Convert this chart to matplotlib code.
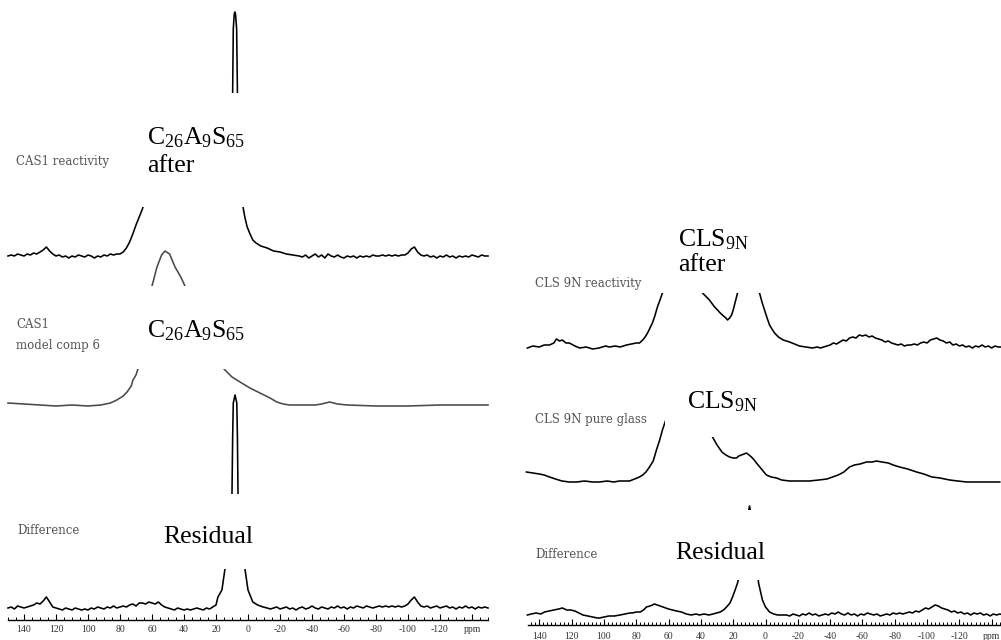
import matplotlib
matplotlib.use('Agg')
import matplotlib.pyplot as plt
from matplotlib.patches import Rectangle
from matplotlib.ticker import FixedLocator, MultipleLocator

W, H, DPI = 1001, 640, 100

plt.rcParams['mathtext.fontset'] = 'custom'
plt.rcParams['mathtext.rm'] = 'Liberation Serif'
plt.rcParams['mathtext.it'] = 'Liberation Serif:italic'

# ---- data: (ppm, intensity), intensity in px above each baseline
CAS1_REACT = [
    (150, 1), (148, 2), (146, 1), (144, 3), (142, 2), (140, 1), (138, 3), (136, 2), (134, 4), (132, 3),
    (130, 5), (128, 7), (126, 10), (124, 6), (122, 3), (120, 1), (118, 2), (116, 0), (114, 1), (112, -1),
    (110, 1), (108, 0), (106, 2), (104, 1), (102, 0), (100, 2), (98, 1), (96, -1), (94, 1), (92, 0),
    (90, 2), (88, 1), (86, 3), (84, 2), (82, 3), (80, 3), (78, 5), (76, 9), (74, 15), (72, 23),
    (70, 32), (68, 40), (66, 48), (64, 58), (60, 85), (55, 105), (50, 115), (45, 118), (40, 120), (35, 124),
    (30, 130), (25, 136), (20, 140), (15, 148), (12, 155), (10, 160), (9.6, 164), (9.4, 200), (9.2, 228), (8.6, 243),
    (8.2, 245), (7.8, 243), (7.1, 228), (6.9, 200), (6.6, 164), (6.2, 140), (5.5, 110), (4.5, 80), (3.6, 60), (3.1, 50),
    (2, 40), (0.5, 30), (-1, 24), (-3, 17), (-5, 14), (-8, 11), (-12, 9), (-16, 6), (-20, 5), (-24, 3),
    (-28, 2), (-32, 1), (-34, 0), (-36, 2), (-38, -1), (-40, 1), (-42, 3), (-44, 0), (-46, 2), (-48, -1),
    (-50, 3), (-52, 1), (-54, 0), (-56, 2), (-58, 0), (-60, -1), (-62, 1), (-64, 0), (-66, 1), (-68, -1),
    (-70, 1), (-72, 0), (-74, 1), (-76, 0), (-78, 2), (-80, 1), (-82, 1), (-84, 2), (-86, 1), (-88, 2),
    (-90, 1), (-92, 2), (-94, 1), (-96, 2), (-98, 2), (-100, 4), (-102, 8), (-104, 10), (-106, 5), (-108, 2),
    (-110, 1), (-112, 2), (-114, 0), (-116, 1), (-118, -1), (-120, 1), (-122, 0), (-124, 2), (-126, 0), (-128, 1),
    (-130, -1), (-132, 1), (-134, 0), (-136, 1), (-138, 0), (-140, 2), (-142, 1), (-144, 0), (-146, 2), (-148, 1),
    (-150, 1),
]

CAS1_MODEL = [
    (150, 2), (140, 1), (130, 0), (120, -1), (110, 0), (100, -1), (92, 0), (86, 2), (82, 5), (78, 9),
    (75.6, 13), (73, 19), (71.9, 25), (70, 30), (68.8, 36), (66, 60), (63, 90), (60, 119), (56.9, 138), (54, 150),
    (51.9, 154), (49, 151), (45.6, 138), (42, 128), (39.4, 119), (33, 95), (27, 72), (20.6, 50), (15, 36), (10, 28),
    (5, 23), (-1.2, 17), (-7.5, 12), (-13.8, 7), (-18, 3), (-22, 1), (-26, 0), (-34, 0), (-42, 0), (-46, 1),
    (-51, 3), (-56, 1), (-62, 0), (-80, -1), (-100, -1), (-120, 0), (-150, 0),
]

CAS1_DIFF = [
    (150, 0), (148, 1), (146, -1), (144, 2), (142, 1), (140, 0), (138, 1), (136, 2), (134, 3), (132, 5),
    (130, 4), (128, 7), (126, 11), (124, 6), (122, 1), (120, 0), (118, -1), (116, -2), (114, 0), (112, -1),
    (110, -2), (108, 0), (106, -1), (104, -2), (102, -1), (100, -2), (98, 0), (96, -1), (94, 1), (92, 0),
    (90, -1), (88, 1), (86, 0), (84, 2), (82, 0), (80, 1), (78, 2), (76, 1), (74, 3), (72, 4),
    (70, 2), (68, 5), (66, 5), (64, 4), (62, 6), (60, 5), (58, 4), (56, 6), (54, 3), (52, 1),
    (50, 0), (48, -1), (46, -2), (44, 0), (42, -1), (40, -2), (38, -1), (36, -2), (34, -1), (32, 0),
    (30, -1), (28, -2), (26, 0), (24, -1), (22, 1), (20, 3), (18.8, 11), (16.3, 18), (14.4, 39), (12, 70),
    (10, 115), (9.6, 170), (9.2, 205), (8.1, 213), (7.0, 205), (6.6, 170), (6.25, 115), (4, 70), (1.9, 39), (0, 18),
    (-3, 6), (-6, 3), (-9.4, 1), (-12, 0), (-14, -1), (-16, 0), (-18, 1), (-20, -1), (-22, 0), (-24, 1),
    (-26, -1), (-28, 0), (-30, -2), (-32, 0), (-34, 1), (-36, -1), (-38, 0), (-40, 2), (-42, 0), (-44, -1),
    (-46, 1), (-48, 0), (-50, -1), (-52, 1), (-54, 0), (-56, 2), (-58, 0), (-60, 1), (-62, -1), (-64, 1),
    (-66, 0), (-68, 2), (-70, 1), (-72, 0), (-74, 2), (-76, 1), (-78, 0), (-80, 1), (-82, 2), (-84, 1),
    (-86, 2), (-88, 1), (-90, 2), (-92, 1), (-94, 2), (-96, 1), (-98, 2), (-100, 4), (-102, 8), (-104, 11),
    (-106, 6), (-108, 2), (-110, 1), (-112, 2), (-114, 0), (-116, 1), (-118, 2), (-120, 0), (-122, 1), (-124, 2),
    (-126, 0), (-128, 1), (-130, -1), (-132, 1), (-134, 0), (-136, 2), (-138, 0), (-140, 1), (-142, -1), (-144, 1),
    (-146, 0), (-148, 1), (-150, 0),
]

CLS_REACT = [
    (147.4, 0), (144, 2), (140, 1), (137, 3), (133.7, 3), (131, 5), (129.4, 9), (127.5, 7), (125.7, 8), (123.5, 5),
    (121.4, 5), (118, 2), (115, 0), (111, 1), (107, -1), (103, 0), (99, 2), (96.6, 1), (93, 2), (90, 1),
    (86, 3), (83, 4), (80, 5), (78, 5), (76, 8), (74.5, 11), (73, 15), (71.5, 20), (70, 25), (68.5, 32),
    (66.9, 41), (65.3, 48), (63.8, 55), (60, 90), (55, 120), (50, 130), (45, 100), (39, 55), (36.5, 51), (34.7, 48),
    (32, 42), (29.7, 38), (28, 35), (26, 32), (24.5, 30), (23.5, 28), (22.2, 30), (21, 33), (20, 38), (19.2, 43),
    (18.2, 49), (17.3, 55), (15, 80), (12, 130), (10, 150), (8, 140), (6, 100), (4.5, 70), (3.7, 55), (2, 45),
    (0.6, 38), (-1, 30), (-2.5, 23), (-4, 19), (-5.6, 15), (-8, 11), (-11, 8), (-14.9, 6), (-18, 4), (-21, 2),
    (-25, 1), (-29, 0), (-32, 1), (-34, 0), (-36, 1), (-38, 2), (-40, 3), (-42, 5), (-44, 4), (-46, 6),
    (-48, 8), (-50, 7), (-52, 10), (-54, 11), (-56, 10), (-58, 13), (-60, 12), (-62, 13), (-64, 11), (-66, 12),
    (-68, 10), (-70, 9), (-72, 8), (-74, 6), (-76, 7), (-78, 5), (-80, 4), (-82, 3), (-84, 4), (-86, 2),
    (-88, 3), (-90, 3), (-92, 4), (-94, 3), (-96, 5), (-98, 6), (-100, 5), (-102, 8), (-104, 9), (-106, 10),
    (-108, 8), (-110, 7), (-112, 5), (-114, 6), (-116, 3), (-118, 4), (-120, 2), (-122, 3), (-124, 1), (-126, 2),
    (-128, 0), (-130, 2), (-132, 1), (-134, 3), (-136, 1), (-138, 2), (-140, 0), (-142, 2), (-144, 1), (-146, 1),
]

CLS_GLASS = [
    (148, 10), (144, 9), (140, 8), (137, 7), (133.7, 5), (130, 3), (126, 1), (121.4, 0), (117, 0), (112, 1),
    (107, 0), (102.8, 0), (98, 1), (94, 0), (90.4, 1), (87, 1), (84.2, 1), (81, 3), (78, 5), (76, 7),
    (74, 10), (71.8, 15), (69.5, 21), (67.5, 32), (65.5, 42), (63.8, 52), (61.3, 64), (58, 90), (54, 110), (50, 120),
    (46, 118), (42, 100), (38, 75), (35, 58), (32.8, 45), (30, 37), (27, 30), (24.5, 27), (22.3, 25), (20, 24),
    (18, 24), (16.5, 26), (14.9, 27), (13.3, 28), (11.8, 29), (10.2, 27), (8.7, 25), (7, 22), (5.6, 19), (3, 14),
    (1, 10), (-0.6, 7), (-3.5, 5), (-6.8, 4), (-10, 2), (-14.9, 1), (-20, 1), (-27, 1), (-33, 2), (-38, 3),
    (-41.5, 5), (-45, 7), (-48.5, 10), (-52, 15), (-55, 17), (-58.5, 18), (-62.5, 20), (-66, 20), (-68.7, 21), (-72, 20),
    (-76, 19), (-79, 17), (-83, 15), (-88, 13), (-93.5, 10), (-98, 8), (-103, 5), (-108, 4), (-114, 2), (-119, 1),
    (-124.5, 0), (-130, 0), (-135, 0), (-140, 0), (-145, 0),
]

CLS_DIFF = [
    (147.4, 0), (145, 1), (142, 2), (139, 1), (136.8, 3), (134, 4), (131, 5), (128, 6), (125.7, 7), (123, 5),
    (120.5, 5), (118, 4), (115.5, 2), (113, 0), (110, -1), (107, -2), (104, -3), (102.8, -3), (100, -2), (97, -1),
    (93.5, -1), (90, 0), (87, 1), (84, 2), (82.4, 2), (80, 3), (77.5, 3), (75.5, 5), (73.7, 8), (71.5, 9),
    (70, 10), (68.7, 11), (67, 10), (65.5, 9), (63.8, 8), (62, 7), (60, 6), (57.6, 5), (55, 4), (52, 3),
    (49, 1), (46, 0), (43, 1), (40.9, 0), (38, 1), (35, 0), (32.5, 1), (30.3, 2), (28, 3), (26, 5),
    (24.1, 8), (22, 12), (20.4, 18), (18.8, 25), (17.3, 32), (15, 50), (13, 75), (11, 100), (9.9, 109), (8.8, 100),
    (6.8, 75), (4.3, 32), (1.9, 15), (0, 8), (-2.5, 3), (-5, 1), (-7.5, 0), (-10.5, 0), (-13, 0), (-15, -1),
    (-17, 1), (-19, 0), (-21, -1), (-23, 1), (-25, 0), (-27, 2), (-29, 0), (-31, 1), (-33, -1), (-35, 0),
    (-37, 1), (-39, 0), (-41, 2), (-43, 1), (-45, 3), (-47, 1), (-49, 0), (-51, 2), (-53, 0), (-55, 1),
    (-57, -1), (-59, 1), (-61, 0), (-63, 2), (-65, 1), (-67, 0), (-69, 1), (-71, -1), (-73, 0), (-75, 1),
    (-77, 0), (-79, 2), (-81, 1), (-83, 2), (-85, 1), (-87, 2), (-89, 3), (-91, 2), (-93, 4), (-95, 3),
    (-97, 5), (-99, 7), (-101, 6), (-103, 8), (-105, 10), (-107, 9), (-109, 7), (-111, 6), (-113, 5), (-115, 3),
    (-117, 4), (-119, 2), (-121, 3), (-123, 1), (-125, 2), (-127, 0), (-129, 2), (-131, 1), (-133, 2), (-135, 0),
    (-137, 1), (-139, -1), (-141, 1), (-143, 0), (-145, 1), (-147.4, 0),
]

TICKS = [140, 120, 100, 80, 60, 40, 20, 0, -20, -40, -60, -80, -100, -120, -140]
TICK_LABELS = ['140', '120', '100', '80', '60', '40', '20', '0', '-20', '-40', '-60', '-80', '-100', '-120', 'ppm']

# ---- layout (pixels of the 1001x640 picture)
LEFT_AX = dict(x0=8, width=480, line_y=619.5, ppm=(150, -150), minor=5, pad=4)
RIGHT_AX = dict(x0=528, width=475, line_y=625, ppm=(147, -147), minor=2.5, pad=5)

# trace, baseline y (px from top), colour
LEFT_TRACES = [(CAS1_REACT, 257, 'black'), (CAS1_MODEL, 405, '#4a4a4a'), (CAS1_DIFF, 608, 'black')]
RIGHT_TRACES = [(CLS_REACT, 348, 'black'), (CLS_GLASS, 482, 'black'), (CLS_DIFF, 615, 'black')]

# white cover-ups where the labels were pasted over the spectra: ppm from, ppm to, y px top, y px bottom
LEFT_MASKS = [(67.5, 1.25, 93, 207), (70, 10, 286, 369), (55, -8.75, 494, 569)]
RIGHT_MASKS = [(71.8, -2.5, 0, 293), (61.9, 3.7, 325, 437), (62.5, -8.7, 510, 580)]

fig = plt.figure(figsize=(W / DPI, H / DPI), dpi=DPI)
fig.patch.set_facecolor('white')


def make_panel(spec, traces, masks):
    ax = fig.add_axes([spec['x0'] / W, (H - spec['line_y']) / H, spec['width'] / W, spec['line_y'] / H])
    ax.set_xlim(*spec['ppm'])
    ax.set_ylim(0, spec['line_y'])
    ax.patch.set_alpha(0)
    for side in ['top', 'left', 'right']:
        ax.spines[side].set_visible(False)
    ax.spines['bottom'].set_linewidth(1.0)
    ax.set_yticks([])
    ax.xaxis.set_major_locator(FixedLocator(TICKS))
    ax.set_xticklabels(TICK_LABELS, family='Liberation Serif', fontsize=7, color='#333333')
    ax.xaxis.set_minor_locator(MultipleLocator(spec['minor']))
    ax.tick_params(axis='x', which='major', direction='in', length=4, width=0.8, pad=spec['pad'])
    ax.tick_params(axis='x', which='minor', direction='in', length=2.5, width=0.7)

    for data, base_y, col in traces:
        ppm = [p for p, v in data]
        val = [v + spec['line_y'] - base_y for p, v in data]
        ax.plot(ppm, val, color=col, lw=1.15, zorder=2, clip_on=False)

    for p0, p1, ytop, ybot in masks:
        y0 = spec['line_y'] - ybot
        y1 = spec['line_y'] - ytop
        ax.add_patch(Rectangle((p1, y0), p0 - p1, y1 - y0, facecolor='white',
                               edgecolor='none', zorder=3, clip_on=False))
    return ax


ax_l = make_panel(LEFT_AX, LEFT_TRACES, LEFT_MASKS)
ax_r = make_panel(RIGHT_AX, RIGHT_TRACES, RIGHT_MASKS)


def put(x, y, s, **kw):
    fig.text(x / W, 1 - y / H, s, ha='left', va='center', zorder=10, **kw)


big = dict(family='Liberation Serif', fontsize=18.5, color='black')
small = dict(family='DejaVu Serif', fontsize=8.5, color='#555555')

put(147, 138, r'C$_{26}$A$_{9}$S$_{65}$', **big)
put(147, 166, 'after', **big)
put(147, 331, r'C$_{26}$A$_{9}$S$_{65}$', **big)
put(163, 537, 'Residual', **big)
put(678, 240, r'CLS$_{\mathrm{9N}}$', **big)
put(678, 265, 'after', **big)
put(687, 402, r'CLS$_{\mathrm{9N}}$', **big)
put(675, 553, 'Residual', **big)

put(16, 162, 'CAS1 reactivity', **small)
put(16, 324, 'CAS1', **small)
put(16, 345, 'model comp 6', **small)
put(17, 530, 'Difference', **small)
put(535, 283, 'CLS 9N reactivity', **small)
put(535, 420, 'CLS 9N pure glass', **small)
put(535, 555, 'Difference', **small)

fig.savefig('out.png', dpi=DPI, facecolor='white')
plt.close('all')
